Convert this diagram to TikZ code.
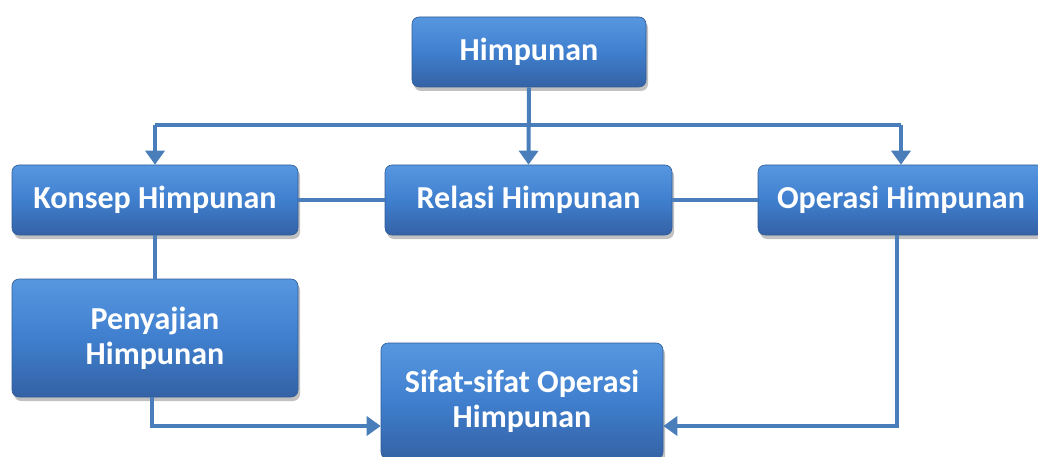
\documentclass[tikz,border=0pt]{standalone}
\usepackage{fontspec}
\setmainfont{Carlito}
\usetikzlibrary{shadows,arrows.meta,calc}
\definecolor{linec}{HTML}{4A7EBB}
\definecolor{boxtop}{HTML}{5797E0}
\definecolor{boxmid}{HTML}{3F7FCE}
\definecolor{boxbot}{HTML}{3462A5}
\definecolor{boxedge}{HTML}{2F5C98}
\tikzset{
  box/.style={rectangle, rounded corners=7pt, draw=boxedge, line width=0.6pt,
    top color=boxtop, bottom color=boxbot, middle color=boxmid,
    text=white, font=\fontsize{32}{35}\selectfont\bfseries, align=center,
    inner sep=0pt,
    drop shadow={opacity=0.35, shadow xshift=2pt, shadow yshift=-4pt, fill=black!70}},
  conn/.style={draw=linec, line width=4pt},
  arr/.style={conn, -{Triangle[width=19pt,length=14pt]}},
}
\begin{document}
\begin{tikzpicture}[x=1pt,y=-1pt]
\useasboundingbox (0,0) rectangle (1038,457);
\clip (0,0) rectangle (1038,457);
\node[box, minimum width=234pt, minimum height=70pt] (him) at (529,52) {Himpunan};
\node[box, minimum width=286pt, minimum height=70pt] (kon) at (155,200) {Konsep Himpunan};
\node[box, minimum width=287pt, minimum height=70pt] (rel) at (528.5,200) {Relasi Himpunan};
\node[box, minimum width=286pt, minimum height=70pt] (ope) at (901,200) {Operasi Himpunan};
\node[box, minimum width=286pt, minimum height=118pt] (pen) at (155,338) {Penyajian\\Himpunan};
\node[box, minimum width=282pt, minimum height=116pt] (sif) at (522,401) {Sifat-sifat Operasi\\Himpunan};
\coordinate (bar) at (528,125);
\draw[conn] (bar -| kon.north) -- (bar -| ope.north);
\draw[arr] (him.south) -- (rel.north);
\draw[arr] (bar -| kon.north) -- (kon.north);
\draw[arr] (bar -| ope.north) -- (ope.north);
\draw[conn] (kon.east) -- (rel.west);
\draw[conn] (rel.east) -- (ope.west);
\draw[conn] (kon.south) -- (pen.north);
\coordinate (sifl) at ($(sif.west)+(0,25)$);
\coordinate (sifr) at ($(sif.east)+(0,25)$);
\draw[arr] ([xshift=-3pt]pen.south) |- (sifl);
\draw[arr] ([xshift=-4pt]ope.south) |- (sifr);
\end{tikzpicture}
\end{document}
